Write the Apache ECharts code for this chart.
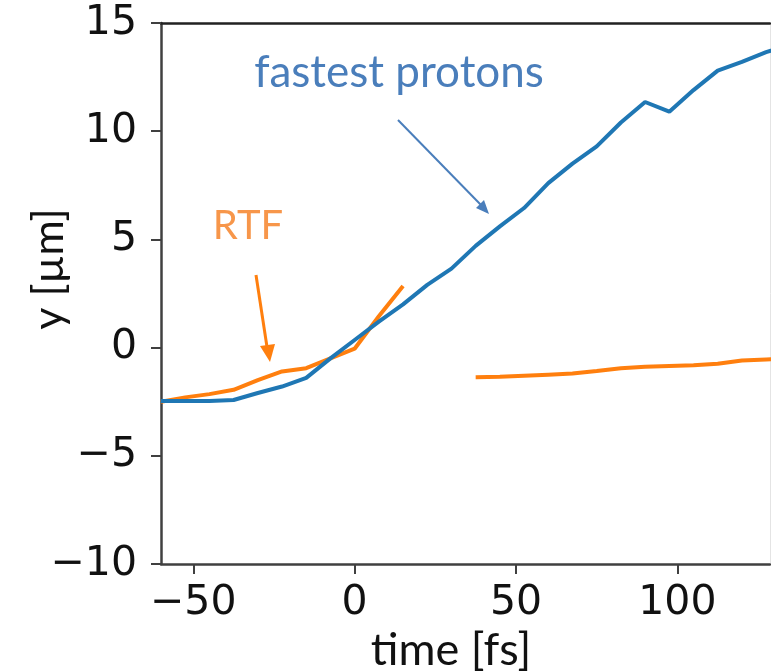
<!DOCTYPE html>
<html>
<head>
<meta charset="utf-8">
<script src="https://cdn.jsdelivr.net/npm/echarts@6/dist/echarts.min.js"></script>
<style>
  html, body { margin: 0; padding: 0; background: #fff; }
  #chart { width: 771px; height: 672px; }
</style>
</head>
<body>
<div id="chart"></div>
<script>
// time samples [fs]
const timeFs = [-60, -52.5, -45, -37.5, -30, -22.5, -15, -7.5, 0, 7.5, 15, 22.5, 30, 37.5,
  45, 52.5, 60, 67.5, 75, 82.5, 90, 97.5, 105, 112.5, 120, 127.5, 135];

// transverse position of the fastest protons [µm]
const fastestProtons = [-2.47, -2.47, -2.47, -2.42, -2.1, -1.8, -1.4, -0.5, 0.35, 1.2, 2.0, 2.9,
  3.65, 4.7, 5.6, 6.45, 7.6, 8.5, 9.3, 10.4, 11.35, 10.9, 11.9, 12.8, 13.2, 13.65, 14.0];

// RTF position [µm]; null where no value exists
const rtf = [-2.5, -2.3, -2.15, -1.95, -1.5, -1.1, -0.95, -0.5, -0.05, 1.45, 2.85, null,
  null, -1.37, -1.35, -1.3, -1.25, -1.2, -1.08, -0.95, -0.88, -0.85, -0.82, -0.75, -0.6, -0.55, -0.5];

const xTicks = [-50, 0, 50, 100];

const pairs = (ys) => timeFs.map((t, i) => [t, ys[i]]);
const minus = (v) => String(v).replace('-', '\u2212');

const axisColor = '#404040';
const tickFont = { fontFamily: 'DejaVu Sans', fontSize: 41, color: '#111' };

const chart = echarts.init(document.getElementById('chart'), null, { renderer: 'canvas' });

chart.setOption({
  animation: false,
  backgroundColor: '#ffffff',
  grid: { left: 161, top: 23, right: 1, bottom: 108, containLabel: false },
  xAxis: [{
    type: 'value', min: -60, max: 128.7,
    axisLine: { show: true, onZero: false, lineStyle: { color: axisColor, width: 2.5 } },
    axisTick: { show: true, customValues: xTicks, length: 10, lineStyle: { color: axisColor, width: 2 } },
    axisLabel: { customValues: xTicks, margin: 19, formatter: minus, ...tickFont },
    splitLine: { show: false }
  }, {
    type: 'value', position: 'top', min: -60, max: 128.7,
    axisLine: { show: true, onZero: false, lineStyle: { color: '#222', width: 2.5 } },
    axisTick: { show: false }, axisLabel: { show: false }, splitLine: { show: false }
  }],
  yAxis: [{
    type: 'value', min: -10, max: 15, interval: 5,
    axisLine: { show: true, onZero: false, lineStyle: { color: axisColor, width: 2.5 } },
    axisTick: { show: true, length: 10, lineStyle: { color: axisColor, width: 2 } },
    axisLabel: { margin: 24, formatter: minus, ...tickFont },
    splitLine: { show: false }
  }, {
    type: 'value', position: 'right', min: -10, max: 15,
    axisLine: { show: true, onZero: false, lineStyle: { color: '#e4e4e4', width: 1 } },
    axisTick: { show: false }, axisLabel: { show: false }, splitLine: { show: false }
  }],
  series: [{
    name: 'fastest protons', type: 'line', data: pairs(fastestProtons),
    showSymbol: false, clip: true,
    lineStyle: { color: '#1f77b4', width: 4 }, z: 3
  }, {
    name: 'RTF', type: 'line', data: pairs(rtf), connectNulls: false,
    showSymbol: false, clip: true,
    lineStyle: { color: '#ff7f0e', width: 4 }, z: 2
  }],
  graphic: [
    {
      type: 'text', x: 451, y: 650,
      style: { text: 'time [fs]', font: '45px Lato', fill: '#111', align: 'center', verticalAlign: 'middle' }
    },
    {
      type: 'text', x: 49, y: 269, rotation: Math.PI / 2,
      style: { text: 'y [\u00b5m]', font: '43px Lato', fill: '#111', align: 'center', verticalAlign: 'middle' }
    },
    {
      type: 'text', x: 399, y: 73,
      style: { text: 'fastest protons', font: '44px Lato', fill: '#4a7ebb', align: 'center', verticalAlign: 'middle' }
    },
    {
      type: 'text', x: 248, y: 226,
      style: { text: 'RTF', font: '40px Lato', fill: '#f7964a', align: 'center', verticalAlign: 'middle' }
    },
    // annotation arrows
    { type: 'line', shape: { x1: 398, y1: 120, x2: 481, y2: 205 }, style: { stroke: '#4a7ebb', lineWidth: 2 } },
    { type: 'polygon', shape: { points: [[489, 214], [476, 208], [484, 200]] }, style: { fill: '#4a7ebb' } },
    { type: 'line', shape: { x1: 256, y1: 275, x2: 267, y2: 347 }, style: { stroke: '#ff7f0e', lineWidth: 3 } },
    { type: 'polygon', shape: { points: [[270, 362], [260, 346], [275, 344]] }, style: { fill: '#ff7f0e' } }
  ]
});
</script>
</body>
</html>
